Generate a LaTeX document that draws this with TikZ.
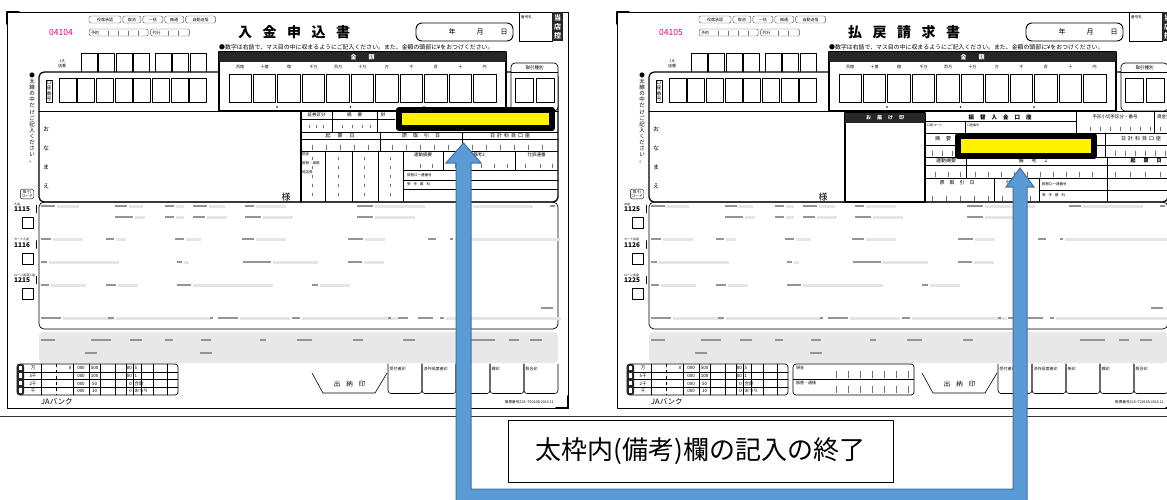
\documentclass[tikz,border=0pt]{standalone}
\usepackage{fontspec}
\setmainfont{Noto Sans CJK JP}
\usetikzlibrary{positioning}
\definecolor{slippink}{HTML}{E4007F}
\definecolor{arrowblue}{HTML}{5B9BD5}
\definecolor{arrowedge}{HTML}{41719C}
\newcommand{\fsz}[1]{\fontsize{#1}{#1}\selectfont}
\newcommand{\tatefs}[2]{\fontsize{#1}{#2}\selectfont}

\tikzset{
  lbl/.style={inner sep=0pt, font=\fsz{4.5}},
  tag/.style={draw=black!70, rounded corners=2pt, inner sep=0pt, minimum height=7pt, font=\fsz{4}},
  cell/.style={draw, line width=1pt},
  thickline/.style={line width=1.3pt},
  gridline/.style={line width=.45pt},
  tick/.style={black!55, line width=.4pt},
  darkband/.style={fill=black!85},
  fieldlbl/.style={fill=black!42},
  fieldbar/.style={fill=black!10},
  hilite/.style={draw=black, fill=yellow, line width=6pt},
  bluearrow/.style={fill=arrowblue, draw=arrowedge, line width=1pt, line join=miter},
  callout/.style={draw, fill=white, line width=.8pt, minimum width=385pt, minimum height=62pt, font=\fsz{26}},
}

% common parts of one slip: number, title, codes, form number
\newcommand{\slipform}[4]{%
  \draw[line width=.7pt] (7,12) rectangle (568,408);
  \draw[line width=1.8pt] (7,24) -- (7,12) -- (19,12) (556,408) -- (568,408) -- (568,396);
  % head
  \node[lbl, text=slippink, font=\fsz{8.5}] (num) at (61,32) {#1};
  \node[tag, minimum width=32pt] (t1) at (105,19.5) {役席承認};
  \node[tag, minimum width=18pt, right=1.5pt of t1] (t2) {取消};
  \node[tag, minimum width=20pt, right=1.5pt of t2] (t3) {一括};
  \node[tag, minimum width=19pt, right=1.5pt of t3] (t4) {無通};
  \node[tag, minimum width=30pt, right=1.5pt of t4] (t5) {自動送信};
  \node[tag, minimum width=59pt, anchor=west] (t6) at (89,32.5) {};
  \node[tag, minimum width=39pt, right=2pt of t6] (t7) {};
  \node[lbl, font=\fsz{4}, right=2pt of t6.west] (yoyaku) {予約};
  \node[lbl, font=\fsz{4}, right=2pt of t7.west] (daiko) {代行};
  \foreach \x in {108,118,128,138} \draw[tick] (\x,31) -- (\x,35.5);
  \foreach \x in {168,178} \draw[tick] (\x,31) -- (\x,35.5);
  \node[lbl, font=\fsz{14}\bfseries\addfontfeature{LetterSpace=75}] (title) at (294,32) {#2};
  \node[draw, rounded corners=6pt, line width=.9pt, minimum width=97pt, minimum height=18pt, inner sep=0pt] (date) at (464.5,32) {};
  \node[lbl, font=\fsz{7}] (nen) at (452,32) {年};
  \node[lbl, font=\fsz{7}] (tsuki) at (480,32) {月};
  \node[lbl, font=\fsz{7}] (hi) at (504,32) {日};
  \draw[line width=.5pt] (519,12) rectangle (552,41);
  \node[lbl, font=\fsz{3.6}, anchor=north west] (fuda) at (521,15) {番号札};
  \fill[darkband] (552,12) rectangle (563,41);
  \node[lbl, text=white, align=center, font=\tatefs{7}{9}\bfseries] (hikae) at (557.5,26.5) {当\\店\\控};
  \node[lbl, font=\fsz{5.9}, anchor=west] (rule) at (219,47) {●数字は右詰で、マス目の中に収まるようにご記入ください。また、金額の頭部に¥をおつけください。};
  % JA store number
  \node[lbl, align=center, font=\tatefs{4}{5}] (ja) at (62,63.5) {J\,A\\店番};
  \foreach \i in {0,...,3} \draw[cell] (81+\i*17.5,54) rectangle ++(16,20);
  \foreach \i in {0,1,2} \draw[cell] (155+\i*17.5,54) rectangle ++(16,20);
  % main frame
  \filldraw[thickline, fill=white, rounded corners=5pt] (39,72) rectangle (558,202);
  \node[lbl, align=center, font=\tatefs{5.5}{6.1}] (futo) at (32,118) {●\\太\\線\\の\\中\\だ\\け\\ご\\記\\入\\く\\だ\\さ\\い\\。};
  \node[lbl, draw, inner sep=1pt, align=center, font=\tatefs{4.5}{5.5}] (koza) at (49,91) {口\\座\\番\\号};
  \foreach \i in {0,...,7} \draw[cell] (59+\i*18.7,79) rectangle ++(17,24);
  \draw[line width=.8pt] (39,111) -- (558,111);
  \node[lbl, align=center, font=\tatefs{6}{19}] (onamae) at (46,158) {お\\な\\ま\\え};
  \node[lbl, draw, rounded corners=2pt, inner sep=1pt, align=center, font=\tatefs{3.8}{4.3}] (tcode) at (27,194) {取\,引\\コード};
  % amount
  \filldraw[thickline, fill=white] (219,52) rectangle (506,111);
  \fill[darkband] (219,52) rectangle (506,62);
  \node[lbl, text=white, font=\fsz{6}\bfseries] (kingaku) at (362.5,57) {金\hspace{12pt}額};
  \foreach \u [count=\i from 0] in {百億,十億,億,千万,百万,十万,万,千,百,十,円} {
    \node[lbl, font=\fsz{4}] at (240.2+\i*24.45,67) {\u};
    \draw[cell] (229+\i*24.45,75) rectangle ++(22.5,28);
  }
  \foreach \x in {277,350.5,424} \fill (\x,107) circle (.8);
  % kind of transaction
  \filldraw[line width=.7pt, fill=white, rounded corners=4pt] (511,63) rectangle (558,111);
  \node[lbl, font=\fsz{4.5}] (shubetsu) at (534.5,67.5) {取引種別};
  \draw[gridline] (511,72) -- (558,72);
  \draw[cell] (515,79) rectangle ++(18,24);
  \draw[cell] (536,79) rectangle ++(18,24);
  % codes and check boxes
  \foreach \lab/\code [count=\k from 0] in {#3} {
    \node[lbl, font=\fsz{3}, anchor=west] at (14,204+\k*35.5) {\lab};
    \node[lbl, font=\fsz{6.5}\bfseries, anchor=west] at (14,209.5+\k*35.5) {\code};
    \draw[line width=.5pt] (36.5,205+\k*35.5) -- (36.5,213+\k*35.5);
    \draw[line width=.6pt] (22,217.5+\k*35.5) rectangle ++(11,11);
  }
  % lower data block
  \draw[line width=.7pt, rounded corners=5pt] (39,202) rectangle (558,329);
  \fill[black!9, rounded corners=4pt] (39,332) rectangle (558,363);
  \foreach \x/\y/\w/\b in {41/206/14/22, 115/206/12/14, 165/206/9/8, 193/206/14/16, 245/206/9/30, 357/206/16/50, 459/206/12/60, 550/206/5/0,
      115/217/18/10, 165/217/9/8, 193/217/12/20, 245/217/16/30, 357/217/16/40,
      41/239/10/30, 106/239/8/10, 175/239/9/15, 242/239/12/30, 348/239/15/20, 428/239/8/0, 450/239/3/105,
      41/262/6/70, 177/262/5/5, 243/262/28/45, 348/262/14/20,
      41/285/8/35, 106/285/10/20, 177/285/14/80, 312/285/6/30, 541/308/12/0,
      41/318/20/50, 108/318/6/95, 210/318/3/0, 218/318/20/50, 292/318/8/95, 388/318/3/0, 398/318/10/0, 418/318/15/0, 440/318/4/115} {
    \fill[fieldlbl] (\x,\y-.9) rectangle ++(\w,1.8);
    \fill[fieldbar] (\x+\w+1.5,\y-1.5) rectangle ++(\b,3);
  }
  \foreach \x/\y/\w in {41/340/14, 91/340/20, 130/340/12, 165/340/8, 201/340/10, 260/340/6, 297/340/15, 353/340/10, 403/340/12, 470/340/25, 509/340/10, 530/340/12, 85/353/12, 200/353/12}
    \fill[fieldlbl] (\x,\y-.9) rectangle ++(\w,1.8);
  % money table
  \draw[line width=.7pt, rounded corners=3pt] (17,364) rectangle (178,395);
  \fill[darkband, rounded corners=2pt] (17,364) rectangle (24,395);
  \foreach \y in {368,375.5,383,390.5} \fill[white] (18.8,\y-2.2) rectangle ++(3.4,4.4);
  \foreach \y in {371.75,379.5,387.25} \draw[gridline] (24,\y) -- (178,\y);
  \foreach \x in {41,73,89,100,115,126,133,141,153,167} \draw[gridline] (\x,364) -- (\x,395);
  \draw[gridline, dashed] (56,364) -- (56,395);
  \foreach \a/\b/\c/\d/\e [count=\k from 0] in {万/000/500/00/5, 5千/000/100/00/1, 2千/000/50/0/合計, 千/000/10/0/おつり} {
    \node[lbl, font=\fsz{4.5}] at (33,368+\k*7.75) {\a};
    \node[lbl, font=\fsz{4.5}] at (81,368+\k*7.75) {\b};
    \node[lbl, font=\fsz{4.5}] at (94.5,368+\k*7.75) {\c};
    \node[lbl, font=\fsz{4.5}, anchor=east] at (132,368+\k*7.75) {\d};
    \node[lbl, font=\fsz{4.5}, anchor=west] at (134.5,368+\k*7.75) {\e};
  }
  \node[lbl, font=\fsz{4.5}] (zero) at (70,368) {0};
  % stamps
  \draw[line width=.6pt] (312,373) -- (323,393) -- (375,393) -- (387,373);
  \node[lbl, font=\fsz{6.5}] (suito) at (349.5,384.5) {出\hspace{6pt}納\hspace{6pt}印};
  \foreach \s [count=\k from 0, evaluate=\k as \x using {388+\k*34}] in {受付者印,渉外役席者印,係印,検印,照合印} {
    \draw[line width=.6pt, rounded corners=3pt] (\x,364) -- (\x,393.5) -- (\x+34,393.5) -- (\x+34,364);
    \node[lbl, font=\fsz{4}, anchor=north west] at (\x+1.5,366.5) {\s};
  }
  \node[lbl, font=\fsz{7.5}, anchor=west] (jab) at (41,402) {JAバンク};
  \node[lbl, font=\fsz{3.6}, anchor=east] (fno) at (554,402) {#4};
}

\begin{document}
\begin{tikzpicture}[x=1pt, y=-1pt, line join=round, line cap=round]
\useasboundingbox (0,0) rectangle (1167,500);
\clip (0,0) rectangle (1167,500);
\fill[white] (0,0) rectangle (1167,500);

% deposit slip
\begin{scope}[name prefix=L-]
\slipform{04104}{入金申込書}{入金/1115, カード入金/1116, ローン返済入金/1215}{帳票番号ZJS−T2016B 2016.11}
\node[lbl, font=\fsz{9}] (sama) at (286,197) {様};
\draw[thickline] (301,111) -- (301,202);
\draw[gridline] (301,132) -- (558,132) (301,151) -- (558,151) (332,111) -- (332,132) (377,111) -- (377,132)
  (301,119) -- (395,119) (380,132) -- (380,151) (462,132) -- (462,151) (301,139) -- (558,139);
\node[lbl] (shoken) at (316.5,115) {証券区分};
\node[lbl] (tekiyo) at (354.5,115) {摘\hspace{6pt}要};
\node[lbl] (zai) at (383,115) {財};
\node[lbl, font=\fsz{5}] (kisan) at (340,135.5) {起\hspace{7pt}算\hspace{7pt}日};
\node[lbl, font=\fsz{5}] (gentori) at (421,135.5) {原\hspace{6pt}取\hspace{6pt}引\hspace{6pt}日};
\node[lbl, font=\fsz{5}] (nikkei) at (510,135.5) {日\hspace{2pt}計\hspace{2pt}科\hspace{2pt}目\hspace{2pt}口\hspace{2pt}座};
\foreach \x in {309,316,323,342,352,362,370} \draw[tick] (\x,125) -- (\x,128);
\foreach \x in {312,326,340,354,368,392,406,420,434,448,472,486,500,514,528,542} \draw[tick] (\x,145) -- (\x,150);
\foreach \x in {325,352,378,403} \draw[gridline] (\x,151) -- (\x,202);
\foreach \y in {157,166,175,184,193} \foreach \x in {312,338,364,390} \draw[tick] (\x,\y) -- (\x,\y+3);
\node[lbl, font=\fsz{3.5}, anchor=west] (genkin) at (302,154.5) {現金};
\node[lbl, font=\fsz{3.5}, anchor=west] (furikae) at (302,163.5) {振替・通帳};
\node[lbl, font=\fsz{3.5}, anchor=west] (tatenken) at (302,172.5) {他店券};
\draw[gridline] (443,151) -- (443,170) (515,151) -- (515,170) (403,170) -- (558,170) (403,180) -- (558,180) (403,189) -- (558,189);
\node[lbl] (rendo) at (423,155) {連動摘要};
\node[lbl] (biko) at (479,155) {備考2};
\node[lbl] (shiwake) at (536.5,155) {仕訳通番};
\foreach \x in {420,432,455,468,481,494,507,525,540,552} \draw[tick] (\x,164) -- (\x,168);
\node[lbl, font=\fsz{3.5}, anchor=west] (furiren) at (407,175) {振替口一連番号};
\node[lbl, font=\fsz{3.5}, anchor=west] (tesu) at (407,184.5) {受\hspace{3pt}手\hspace{3pt}数\hspace{3pt}料};
\draw[hilite] (399,110) rectangle (552,128);
\end{scope}

% withdrawal slip
\begin{scope}[xshift=610pt, name prefix=R-]
\slipform{04105}{払戻請求書}{出金/1125, カード出金/1126, ローン出金/1225}{帳票番号ZJS−T2016S 2016.11}
\node[lbl, font=\fsz{9}] (sama) at (213,197) {様};
\draw[thickline, fill=white] (235,113) rectangle (315,202);
\fill[darkband] (235,113) rectangle (315,123);
\node[lbl, text=white, font=\fsz{5}\bfseries] (otodoke) at (275,118) {お\hspace{6pt}届\hspace{6pt}け\hspace{6pt}印};
\draw[gridline] (315,133) -- (558,133) (315,157) -- (558,157) (315,178) -- (558,178) (466,111) -- (466,133) (544,111) -- (544,133)
  (315,121) -- (466,121) (355,121) -- (355,133) (495,133) -- (495,157) (356,157) -- (356,178) (497,157) -- (497,202)
  (384,178) -- (384,202) (429,178) -- (429,202) (429,190) -- (558,190) (315,145) -- (558,145) (315,165) -- (558,165);
\node[lbl, font=\fsz{5.5}\bfseries] (furinyu) at (390,117) {振\hspace{6pt}替\hspace{6pt}入\hspace{6pt}金\hspace{6pt}口\hspace{6pt}座};
\node[lbl, font=\fsz{4.5}] (tegata) at (505,117) {手形小切手区分・番号};
\node[lbl, font=\fsz{4.5}] (shikin) at (556,117) {資金受渡};
\node[lbl, font=\fsz{3}, anchor=west] (kozacd) at (317,125) {口座コード};
\node[lbl, font=\fsz{3}, anchor=west] (kozano) at (357,125) {口座番号};
\node[lbl, font=\fsz{5}] (tekiyo) at (333,139) {摘\hspace{6pt}要};
\node[lbl, font=\fsz{5}] (nikkei) at (531,139) {日\hspace{2pt}計\hspace{2pt}科\hspace{2pt}目\hspace{2pt}口\hspace{2pt}座};
\node[lbl, font=\fsz{5}] (rendo) at (336,161) {連動摘要};
\node[lbl, font=\fsz{5}] (biko) at (423,161) {備\hspace{8pt}考\hspace{8pt}2};
\node[lbl, font=\fsz{5}\bfseries] (kisan) at (536,161) {起\hspace{8pt}算\hspace{8pt}日};
\node[lbl, font=\fsz{5}] (gentori) at (347,183) {原\hspace{5pt}取\hspace{5pt}引\hspace{5pt}日};
\node[lbl, font=\fsz{5}] (shiwake) at (406,183) {仕訳通番};
\node[lbl, font=\fsz{3.5}, anchor=west] (furiren) at (432,184) {振替口一連番号};
\node[lbl, font=\fsz{3.5}, anchor=west] (tesu) at (432,195.5) {受\hspace{3pt}手\hspace{3pt}数\hspace{3pt}料};
\foreach \x in {480,490,500,510,520,530,540,550} \draw[tick] (\x,127) -- (\x,131);
\foreach \x in {322,332,342,352,362,372,382,392,402,412,422,432,442,452,462,472,482,505,515,525,535,545,555} \draw[tick] (\x,151) -- (\x,156);
\foreach \x in {325,338,350,365,378,391,404,417,430,443,456,469,482,505,520,535,550} \draw[tick] (\x,172) -- (\x,177);
\foreach \x in {322,336,350,364,378,392,406,420} \draw[tick] (\x,196) -- (\x,201);
\draw[hilite] (348,136) rectangle (484,156);
% extra box on the withdrawal slip
\draw[line width=.7pt, rounded corners=3pt] (183,364) rectangle (304,395);
\draw[gridline] (183,379.5) -- (304,379.5);
\node[lbl, font=\fsz{4}, anchor=west] (genkin) at (186,368) {現金};
\node[lbl, font=\fsz{4}, anchor=west] (tsucho) at (186,383) {振替・通帳};
\foreach \x in {226,238,250,262,274,286,298} {\draw[tick] (\x,371) -- (\x,378); \draw[tick] (\x,386) -- (\x,393);}
\end{scope}

% bottom edge line
\draw[black!80, line width=.6pt] (0,416) -- (1167,416);

% arrow from the bottom into both remark fields
\coordinate (tipL) at (463.5,143);
\coordinate (tipR) at (1020,168);
\filldraw[bluearrow] (456,510) -- (456,163) -- (446,163) -- (tipL) -- (481,163) -- (471,163) -- (471,489)
  -- (1013,489) -- (1013,187) -- (1006,187) -- (tipR) -- (1034,187) -- (1027,187) -- (1027,510) -- cycle;

\node[callout] (note) at (700.5,451) {太枠内(備考)欄の記入の終了};
\end{tikzpicture}
\end{document}
